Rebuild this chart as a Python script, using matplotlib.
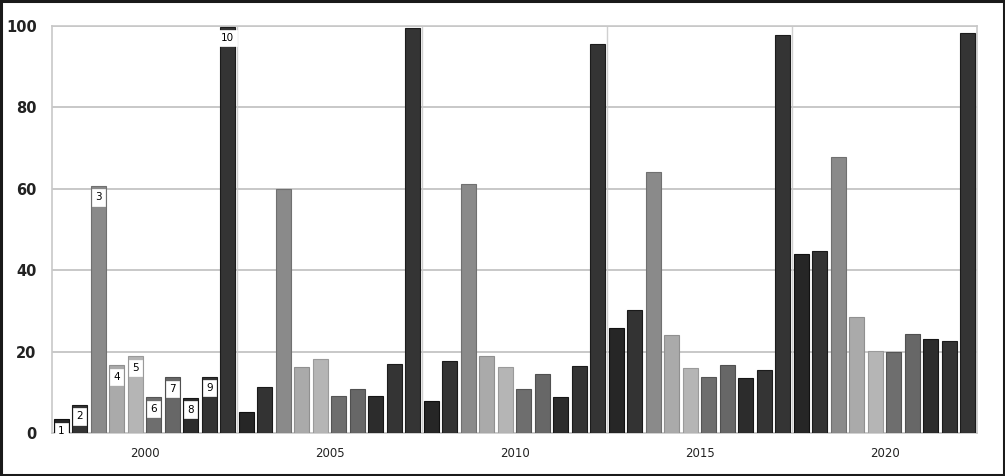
import matplotlib
matplotlib.use("Agg")
import matplotlib.pyplot as plt
from matplotlib.patches import Rectangle

years = ["2000", "2005", "2010", "2015", "2020"]
series_labels = ["1", "2", "3", "4", "5", "6", "7", "8", "9", "10"]
s1 = [3.4, 5.1, 7.8, 25.7, 43.9]
s2 = [6.9, 11.3, 17.8, 30.1, 44.6]
s3 = [60.7, 60.0, 61.3, 64.1, 67.8]
s4 = [16.6, 16.1, 18.8, 24.2, 28.4]
s5 = [18.8, 18.3, 16.3, 16.0, 20.2]
s6 = [8.8, 9.2, 10.8, 13.7, 20.0]
s7 = [13.7, 10.8, 14.6, 16.7, 24.3]
s8 = [8.6, 9.0, 8.8, 13.4, 23.1]
s9 = [13.8, 16.9, 16.4, 15.5, 22.7]
s10 = [99.8, 99.5, 95.7, 97.7, 98.4]
all_series = [s1, s2, s3, s4, s5, s6, s7, s8, s9, s10]

colors = ["#262626", "#333333", "#8a8a8a", "#aaaaaa", "#b5b5b5",
          "#6e6e6e", "#676767", "#2c2c2c", "#343434", "#343434"]
edges = ["#111111", "#1a1a1a", "#707070", "#909090", "#9a9a9a",
         "#555555", "#505050", "#161616", "#1c1c1c", "#1c1c1c"]

fig = plt.figure(figsize=(10.05, 4.76), dpi=100)
ax = fig.add_axes([52/1005, 43/476, 925/1005, 407/476])

n = len(all_series)
slot = 1.0 / n
for i, vals in enumerate(all_series):
    xs = [g - 0.5 + slot/2 + slot*i for g in range(len(years))]
    ax.bar(xs, vals, width=slot*0.82, color=colors[i], edgecolor=edges[i],
           linewidth=0.8, zorder=3)
    # label box on first group
    v = vals[0]
    ax.text(xs[0], v - 1.6, series_labels[i], ha="center", va="top",
            fontsize=7.5, color="black", zorder=5,
            bbox=dict(boxstyle="square,pad=0.3", fc="white", ec="white", lw=0.5))

ax.set_xlim(-0.5, len(years) - 0.5)
ax.set_ylim(0, 100)
ax.set_yticks([0, 20, 40, 60, 80, 100])
ax.set_xticks(range(len(years)))
ax.set_xticklabels(years)
ax.tick_params(axis="y", length=0, pad=11, labelsize=10.5, labelcolor="#222222")
ax.tick_params(axis="x", length=0, pad=10, labelsize=8.5, labelcolor="#222222")
for lab in ax.get_yticklabels():
    lab.set_fontweight("bold")

ax.grid(axis="y", color="#c8c8c8", linewidth=1.4, zorder=0)
for b in [0.5 + k for k in range(len(years) - 1)]:
    ax.axvline(b, color="#d0d0d0", linewidth=1.0, zorder=0)
for side in ["left", "right", "top", "bottom"]:
    ax.spines[side].set_color("#c8c8c8")
    ax.spines[side].set_linewidth(1.2)

fig.patches.append(Rectangle((0.001, 0.002), 0.998, 0.996, transform=fig.transFigure,
                             fill=False, edgecolor="#1a1a1a", linewidth=2.2))

fig.savefig("out.png", dpi=100)
